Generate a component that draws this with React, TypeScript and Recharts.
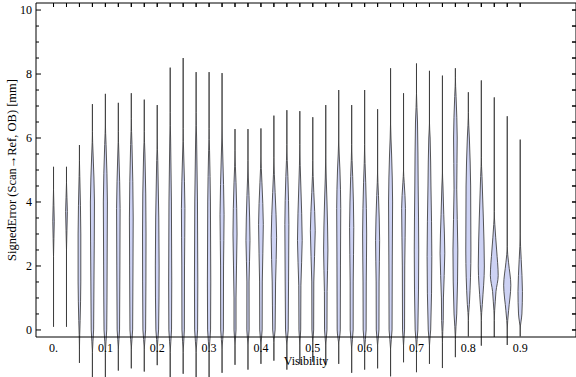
import React from 'react';
import { ComposedChart, Area, XAxis, YAxis, ReferenceLine } from 'recharts';

// violin centres (Visibility)
const VISIBILITY = [
  0, 0.025, 0.05, 0.075, 0.1, 0.125, 0.15, 0.175, 0.2, 0.225, 0.25, 0.275, 0.3,
  0.325, 0.35, 0.375, 0.4, 0.425, 0.45, 0.475, 0.5, 0.525, 0.55, 0.575, 0.6,
  0.625, 0.65, 0.675, 0.7, 0.725, 0.75, 0.775, 0.8, 0.825, 0.85, 0.875, 0.9,
];

// lowest / highest SignedError of each violin [mm]
const MINS = [
  0.1, 0.1, -1.03, -1.5, -1.5, -1.27, -1.2, -1.3, -1.1, -1.5, -1.37, -1.5, -1.5,
  -1.34, -1.09, -1.24, -1.06, -0.96, -1.24, -1.06, -1.0, -1.1, -1.06, -1.34, -1.24,
  -1.2, -1.45, -1.01, -1.32, -1.06, -1.19, -0.85, -0.2, -0.49, -0.22, -0.47, -0.2,
];
const MAXS = [
  5.1, 5.1, 5.78, 7.06, 7.38, 7.1, 7.4, 7.2, 7.03, 8.2, 8.5, 8.06, 8.06,
  8.03, 6.28, 6.28, 6.3, 6.7, 6.87, 6.84, 6.65, 7.03, 7.5, 7.03, 7.5,
  6.9, 8.18, 7.4, 8.33, 8.1, 7.95, 8.18, 7.43, 7.8, 7.27, 6.68, 5.95,
];

// density profile of each violin: [error, relative density]
const PROFILES: number[][][] = [
  [[2.3, 0], [3.4, 1.1], [4.4, 0]],
  [[2.5, 0], [3.7, 1.3], [4.6, 0]],
  [[-0.6, 0], [0.3, 1], [1.5, 2], [3, 2], [4.8, 0.5], [5.3, 0]],
  [[-0.7, 0], [0, 1.8], [1.5, 2.3], [4, 3], [5.5, 1], [6.2, 0]],
  [[-0.7, 0], [0, 2], [2, 2.6], [4, 3], [5.8, 1], [6.5, 0]],
  [[-0.6, 0], [0, 1.8], [2, 2.3], [3.8, 2.6], [5.5, 0.8], [6.2, 0]],
  [[-0.6, 0], [0, 2], [2, 2.5], [3.5, 2.8], [5.8, 1], [6.6, 0]],
  [[-0.6, 0], [0, 2], [3, 2.6], [5.5, 1], [6.2, 0]],
  [[-0.6, 0], [0, 2], [2, 2.8], [3.5, 2.3], [5.3, 0.8], [6, 0]],
  [[-0.7, 0], [0, 2], [1.5, 2.3], [4, 1.8], [6, 0.6], [6.8, 0]],
  [[-0.7, 0], [0, 1.8], [2, 2], [3.8, 2.6], [5.5, 0.8], [6.3, 0]],
  [[-0.7, 0], [0, 2.2], [1.5, 2.5], [4, 2], [6, 0.7], [6.8, 0]],
  [[-0.7, 0], [0, 2.2], [1.5, 2.5], [4, 2], [5.6, 0.7], [6.3, 0]],
  [[-0.6, 0], [0, 2], [2, 2.2], [3.6, 3], [5.5, 1], [6.5, 0]],
  [[-0.5, 0], [0, 1.5], [1, 1.5], [3, 3], [4.6, 1.5], [5.6, 0]],
  [[-0.5, 0], [0, 1.7], [1.5, 1.6], [2.8, 3], [4.2, 1.5], [5.3, 0]],
  [[-0.5, 0], [0, 1.8], [1.5, 2], [3.3, 3.5], [4.6, 1.5], [5.5, 0]],
  [[-0.4, 0], [0, 1.8], [1.5, 2.5], [2.9, 4], [4.3, 1.8], [5.4, 0]],
  [[-0.5, 0], [0, 2], [1.5, 2.5], [3.3, 3], [4.8, 1.5], [5.8, 0]],
  [[-0.5, 0], [0, 1.3], [1.4, 1.6], [2.8, 3.5], [4.5, 1.5], [5.8, 0]],
  [[-0.4, 0], [0, 1.3], [1.5, 1.5], [3.1, 3.6], [4.3, 1.5], [5.3, 0]],
  [[-0.5, 0], [0, 1.8], [1.2, 2], [2.5, 3.2], [4, 1.8], [5.5, 0]],
  [[-0.5, 0], [0, 2.3], [2, 2.6], [3.8, 3], [5, 1.8], [6, 0]],
  [[-0.6, 0], [0, 2.2], [1.5, 2.3], [3.2, 3.1], [4.8, 1.5], [5.8, 0]],
  [[-0.6, 0], [0, 2.2], [1.5, 2.4], [3, 3], [4.6, 1.6], [5.8, 0]],
  [[-0.5, 0], [0, 2], [1.5, 2.2], [2.8, 3], [4.2, 1.3], [5, 0]],
  [[-0.6, 0], [0, 2.2], [2, 2.5], [4, 3], [5.5, 1.5], [6.5, 0]],
  [[-0.5, 0], [0, 1.5], [2, 1.8], [3.8, 2.8], [4.6, 1], [5, 0]],
  [[-0.6, 0], [0, 2], [2.5, 3.3], [4.5, 2.5], [6.5, 1.5], [7.4, 0]],
  [[-0.5, 0], [0, 1.8], [2.3, 3.5], [4.5, 2.2], [6, 1], [6.5, 0]],
  [[-0.4, 0], [0.3, 1.2], [1, 1.5], [2.4, 3.5], [3.6, 2], [4.5, 0.8], [5, 0]],
  [[-0.3, 0], [0.5, 2], [2.5, 3.6], [4.4, 2], [6, 2.7], [7.3, 1], [7.9, 0]],
  [[0.3, 0], [0.8, 1.5], [2.5, 3.8], [4.5, 3.4], [6, 1.5], [6.8, 0]],
  [[0.3, 0], [0.8, 1.5], [2, 4.5], [3.5, 3], [4.8, 1], [5.4, 0]],
  [[0.3, 0], [0.9, 1.5], [1.2, 2.5], [1.7, 5.8], [2.5, 3.5], [3.3, 0.8], [3.7, 0]],
  [[0, 0], [0.6, 2], [1.4, 5.3], [2.1, 2], [2.6, 0]],
  [[0, 0], [0.5, 2.5], [1.2, 3.3], [2.2, 1.5], [3, 0]],
];

const X_DOMAIN = [-0.0338, 1.0076];
const Y_DOMAIN = [-0.22, 10.22];
const X_TICKS = [0, 0.1, 0.2, 0.3, 0.4, 0.5, 0.6, 0.7, 0.8, 0.9];
const Y_TICKS = [
  0, 0.5, 1, 1.5, 2, 2.5, 3, 3.5, 4, 4.5, 5, 5.5, 6, 6.5, 7, 7.5, 8, 8.5, 9, 9.5, 10,
];
const Y_LABELS = [0, 2, 4, 6, 8, 10];

const WIDTH_SCALE = 0.0013; // density -> visibility units
const TOP_TICK = 0.125; // frame tick length, y units
const RIGHT_TICK = 0.0078; // frame tick length, x units
const FONT = '"Liberation Serif", "Times New Roman", serif';

const violinData = (i: number) => {
  const c = VISIBILITY[i];
  return [
    { y: MINS[i], v: [c, c] },
    ...PROFILES[i].map(([y, w]) => ({ y, v: [c - w * WIDTH_SCALE, c + w * WIDTH_SCALE] })),
    { y: MAXS[i], v: [c, c] },
  ];
};

// invisible series that ties the top / right frame axes to the chart
const FRAME_DATA = [{ y: 5, v: [0.5, 0.5] }];

const LeftTick = (props: any) => {
  const { x, y, payload } = props;
  const major = Y_LABELS.includes(payload.value);
  return (
    <g>
      <line x1={x + 4} x2={x + 4 + (major ? 5 : 3)} y1={y} y2={y} stroke="#000" />
      {major && (
        <text x={x} y={y} dy="0.35em" textAnchor="end" fontSize={12} fontFamily={FONT} fill="#000">
          {payload.value}
        </text>
      )}
    </g>
  );
};

const NoLabel = () => <g />;

const App = () => {
  return (
    <div style={{ position: 'absolute', left: 0, top: 0 }}>
      <style>{'.recharts-area g, .recharts-area path { clip-path: none !important; }'}</style>
      <ComposedChart
        width={576}
        height={377}
        layout="vertical"
        margin={{ top: 3, right: 0, bottom: 0, left: 0 }}
        style={{ overflow: 'visible' }}
      >
        <XAxis
          xAxisId="b"
          type="number"
          domain={X_DOMAIN}
          allowDataOverflow
          ticks={X_TICKS}
          tickFormatter={(v: number) => (v === 0 ? '0.' : v.toFixed(1))}
          tickLine={false}
          tickSize={0}
          tickMargin={6}
          height={40}
          axisLine={{ stroke: '#000' }}
          tick={{ fill: '#000', fontSize: 12, fontFamily: FONT }}
          label={{ value: 'Visibility', position: 'insideBottom', offset: 12, fill: '#000', fontSize: 12, fontFamily: FONT }}
        />
        <XAxis
          xAxisId="t"
          orientation="top"
          type="number"
          domain={X_DOMAIN}
          allowDataOverflow
          ticks={VISIBILITY}
          interval={0}
          height={1}
          mirror
          tickSize={4}
          tick={<NoLabel />}
          tickLine={{ stroke: '#000' }}
          axisLine={{ stroke: '#000' }}
        />
        <YAxis
          yAxisId="l"
          type="number"
          dataKey="y"
          domain={Y_DOMAIN}
          allowDataOverflow
          reversed
          ticks={Y_TICKS}
          interval={0}
          width={36}
          tickSize={0}
          tickMargin={4}
          tickLine={false}
          axisLine={{ stroke: '#000' }}
          tick={<LeftTick />}
          label={{
            value: 'SignedError (Scan\u2192Ref, OB) [mm]',
            angle: -90,
            position: 'center',
            dx: -6,
            fill: '#000',
            fontSize: 12.5,
            fontFamily: FONT,
          }}
        />
        <YAxis
          yAxisId="r"
          orientation="right"
          type="number"
          dataKey="y"
          domain={Y_DOMAIN}
          allowDataOverflow
          reversed
          ticks={Y_TICKS}
          interval={0}
          width={1}
          mirror
          tickSize={4}
          tick={<NoLabel />}
          tickLine={{ stroke: '#000' }}
          axisLine={{ stroke: '#000' }}
        />
        <Area
          xAxisId="t"
          yAxisId="r"
          data={FRAME_DATA}
          dataKey="v"
          stroke="none"
          fill="none"
          dot={false}
          activeDot={false}
          isAnimationActive={false}
        />
        {/* inward frame ticks on top and right */}
        {VISIBILITY.map((c) => (
          <ReferenceLine
            key={`tt-${c}`}
            xAxisId="b"
            yAxisId="l"
            stroke="#000"
            segment={[{ x: c, y: Y_DOMAIN[1] - 0.001 }, { x: c, y: Y_DOMAIN[1] - TOP_TICK }]}
          />
        ))}
        {Y_TICKS.map((t) => (
          <ReferenceLine
            key={`rt-${t}`}
            xAxisId="b"
            yAxisId="l"
            stroke="#000"
            segment={[{ x: X_DOMAIN[1] - 0.0001, y: t }, { x: X_DOMAIN[1] - RIGHT_TICK, y: t }]}
          />
        ))}
        {VISIBILITY.map((c, i) => (
          <Area
            key={`violin-${i}`}
            xAxisId="b"
            yAxisId="l"
            data={violinData(i)}
            dataKey="v"
            type="monotone"
            stroke="#3a3a3a"
            strokeOpacity={0.85}
            strokeWidth={1}
            fill="#cdd2f4"
            fillOpacity={1}
            dot={false}
            activeDot={false}
            isAnimationActive={false}
          />
        ))}
      </ComposedChart>
    </div>
  );
};

export default App;
